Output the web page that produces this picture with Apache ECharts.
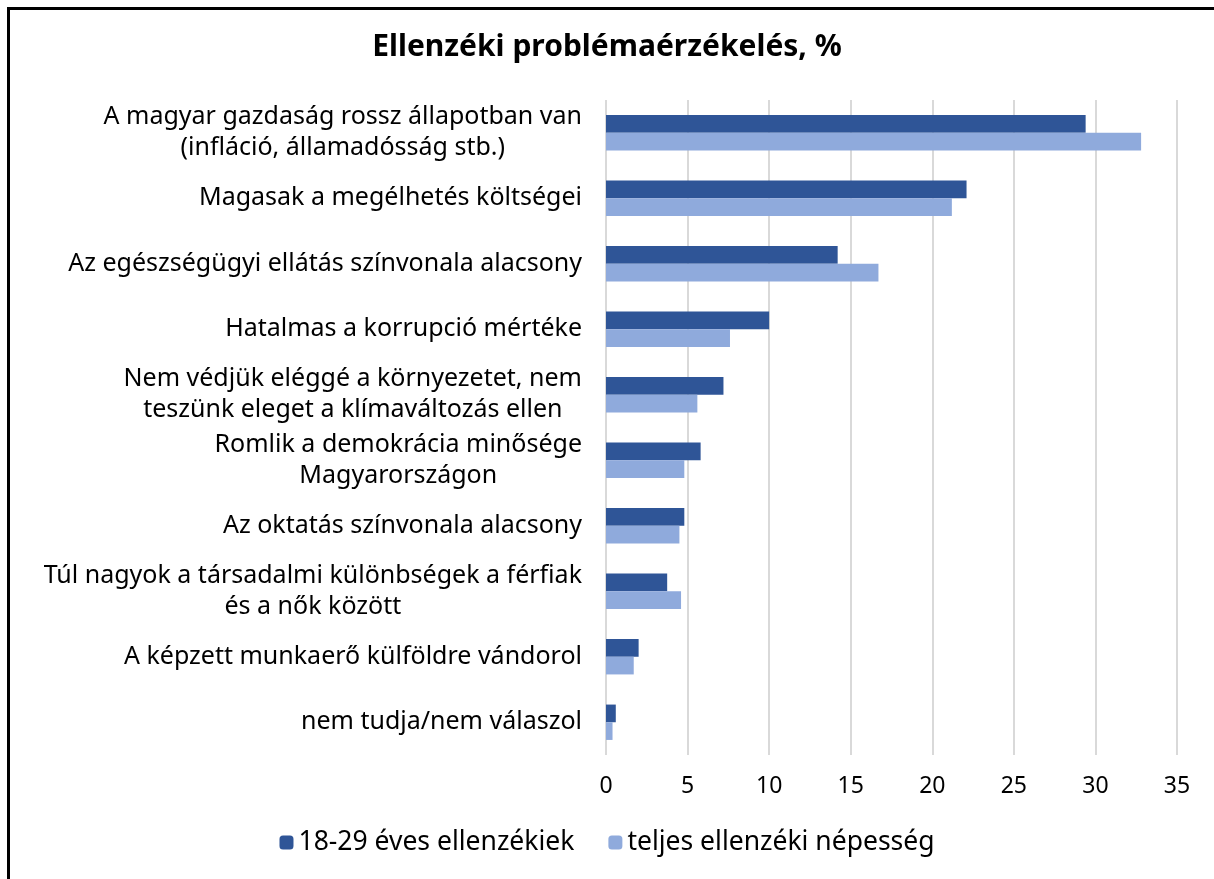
<!DOCTYPE html>
<html lang="hu" style="height: 100%">
<head>
  <meta charset="utf-8">
</head>
<body style="height: 100%; margin: 0; background: #fff">
  <div id="container" style="width: 1214px; height: 879px"></div>

  <script type="text/javascript" src="https://cdn.jsdelivr.net/npm/echarts@6/dist/echarts.min.js"></script>
  <script type="text/javascript">
    var categories = [
      'A magyar gazdaság rossz állapotban van\n(infláció, államadósság stb.)',
      'Magasak a megélhetés költségei',
      'Az egészségügyi ellátás színvonala alacsony',
      'Hatalmas a korrupció mértéke',
      'Nem védjük eléggé a környezetet, nem\nteszünk eleget a klímaváltozás ellen',
      'Romlik a demokrácia minősége\nMagyarországon',
      'Az oktatás színvonala alacsony',
      'Túl nagyok a társadalmi különbségek a férfiak\nés a nők között',
      'A képzett munkaerő külföldre vándorol',
      'nem tudja/nem válaszol'
    ];
    var youngOpp = [29.4, 22.1, 14.2, 10.0, 7.2, 5.8, 4.8, 3.75, 2.0, 0.6];
    var allOpp = [32.8, 21.2, 16.7, 7.6, 5.6, 4.8, 4.5, 4.6, 1.7, 0.4];
    var seriesNames = ['18-29 éves ellenzékiek', 'teljes ellenzéki népesség'];
    var font = 'Noto Sans';

    var myChart = echarts.init(document.getElementById('container'));
    myChart.setOption({
      animation: false,
      backgroundColor: '#fff',
      title: {
        text: 'Ellenzéki problémaérzékelés, %',
        left: 'center',
        top: 27,
        textStyle: { fontFamily: font, fontSize: 30, fontWeight: 'bold', color: '#000' }
      },
      legend: {
        bottom: 18,
        left: 'center',
        itemWidth: 14,
        itemHeight: 14,
        itemGap: 34,
        textStyle: { fontFamily: font, fontSize: 26.5, color: '#000' },
        data: seriesNames
      },
      grid: { left: 606, right: 37, top: 100, bottom: 124 },
      xAxis: {
        type: 'value',
        min: 0,
        max: 35,
        interval: 5,
        axisLine: { show: false },
        axisTick: { show: false },
        axisLabel: { fontFamily: font, fontSize: 23, color: '#000', margin: 20 },
        splitLine: { lineStyle: { color: '#d9d9d9', width: 2 } }
      },
      yAxis: {
        type: 'category',
        inverse: true,
        data: categories,
        axisLine: { show: false },
        axisTick: { show: false },
        axisLabel: {
          fontFamily: font,
          fontSize: 25,
          color: '#000',
          margin: 24,
          lineHeight: 31,
          formatter: function (v) {
            return v.split('\n').map(function (l) { return '{c|' + l + '}'; }).join('\n');
          },
          rich: { c: { align: 'center', fontFamily: font, fontSize: 25, lineHeight: 31, color: '#000' } }
        }
      },
      series: [
        {
          name: seriesNames[0],
          type: 'bar',
          data: youngOpp,
          barGap: '0%',
          barCategoryGap: '46%',
          itemStyle: { color: '#2f5597' }
        },
        {
          name: seriesNames[1],
          type: 'bar',
          data: allOpp,
          itemStyle: { color: '#8faadc' }
        }
      ],
      graphic: [{
        type: 'rect',
        shape: { x: 8.5, y: 8.5, width: 1400, height: 1000 },
        style: { fill: 'none', stroke: '#000', lineWidth: 3 },
        z: 100
      }]
    });
  </script>
</body>
</html>
